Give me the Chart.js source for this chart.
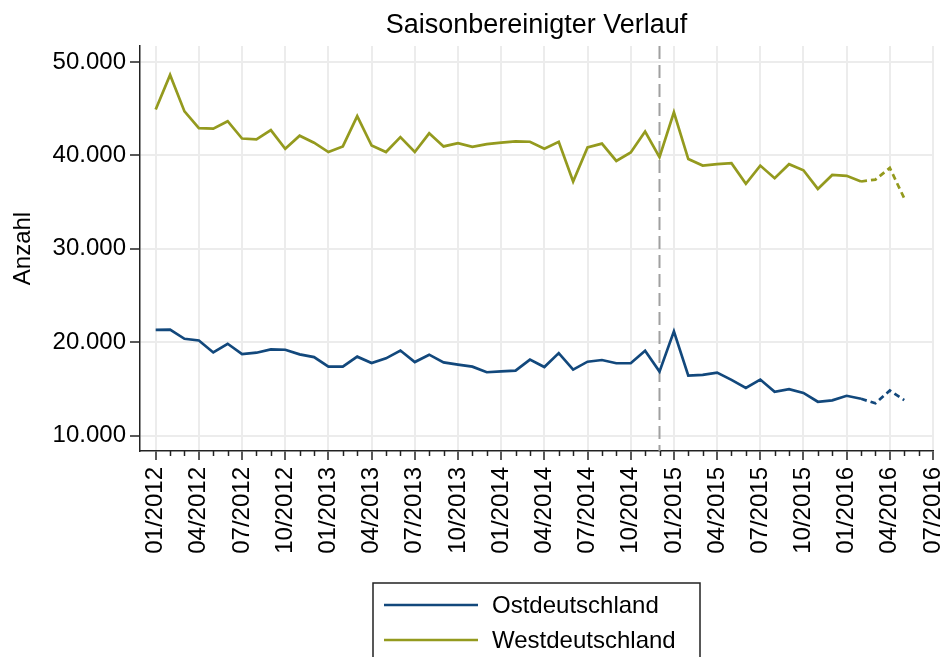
<!DOCTYPE html>
<html>
<head>
<meta charset="utf-8">
<title>Saisonbereinigter Verlauf</title>
<script src="https://cdn.jsdelivr.net/npm/chart.js@4/dist/chart.umd.min.js"></script>
<style>
  html, body { margin: 0; padding: 0; background: #ffffff; }
  #wrap { width: 946px; height: 657px; position: relative; }
</style>
</head>
<body>
<div id="wrap"><canvas id="myChart" width="946" height="657"></canvas></div>
<script>
// Monthly categories (x = month index, 0 = 01/2012)
var months = [
  "01/2012","02/2012","03/2012","04/2012","05/2012","06/2012","07/2012","08/2012","09/2012","10/2012","11/2012","12/2012",
  "01/2013","02/2013","03/2013","04/2013","05/2013","06/2013","07/2013","08/2013","09/2013","10/2013","11/2013","12/2013",
  "01/2014","02/2014","03/2014","04/2014","05/2014","06/2014","07/2014","08/2014","09/2014","10/2014","11/2014","12/2014",
  "01/2015","02/2015","03/2015","04/2015","05/2015","06/2015","07/2015","08/2015","09/2015","10/2015","11/2015","12/2015",
  "01/2016","02/2016","03/2016","04/2016","05/2016"
];

// Series values
var ostValues = [
  21320, 21350, 20360, 20180, 18900, 19830, 18720, 18870, 19220, 19190, 18690, 18400,
  17380, 17380, 18450, 17770, 18270, 19100, 17870, 18660, 17840, 17600, 17380, 16780,
  16880, 16960, 18130, 17340, 18830, 17060, 17910, 18090, 17740, 17740, 19080, 16850,
  21150, 16420, 16490, 16740, 15960, 15110, 16000, 14680, 14970, 14570, 13620, 13770,
  14260, 13940, 13450, 14830, 13800
];
var westValues = [
  44900, 48600, 44700, 42900, 42850, 43650, 41800, 41700, 42700, 40700, 42100, 41350,
  40350, 40950, 44200, 41050, 40350, 41950, 40350, 42350, 40950, 41300, 40900, 41200,
  41350, 41500, 41450, 40700, 41450, 37200, 40850, 41250, 39400, 40300, 42550, 39800,
  44600, 39600, 38900, 39050, 39150, 36950, 38900, 37550, 39050, 38400, 36400, 37900,
  37800, 37200, 37400, 38650, 35400
];

// Axis ticks
var xTickMonths = [0, 3, 6, 9, 12, 15, 18, 21, 24, 27, 30, 33, 36, 39, 42, 45, 48, 51, 54];
var xTickLabels = [
  "01/2012","04/2012","07/2012","10/2012","01/2013","04/2013","07/2013","10/2013",
  "01/2014","04/2014","07/2014","10/2014","01/2015","04/2015","07/2015","10/2015",
  "01/2016","04/2016","07/2016"
];
var yTicks = [10000, 20000, 30000, 40000, 50000];

var seriesNames = ["Ostdeutschland", "Westdeutschland"];
var breakMonth = 35;       // 12/2014, dashed vertical line
var dashFromIndex = 49;    // from 02/2016 on the series are dashed

var FONT = "'Liberation Sans', Arial, sans-serif";
var ostColor = "#12487c";
var westColor = "#949a1e";

function toPoints(values) {
  return values.map(function (v, i) { return { x: i, y: v }; });
}

function formatThousands(v) {
  return v.toLocaleString("de-DE");
}

// Title, break line, minor ticks and legend drawn on the canvas
var extrasPlugin = {
  id: "extras",
  beforeDatasetsDraw: function (chart) {
    var c = chart.ctx;
    var area = chart.chartArea;
    var x = chart.scales.x.getPixelForValue(breakMonth);
    c.save();
    c.strokeStyle = "#a0a0a0";
    c.lineWidth = 2;
    c.setLineDash([13, 6]);
    c.beginPath();
    c.moveTo(x, area.top);
    c.lineTo(x, area.bottom);
    c.stroke();
    c.restore();
  },
  afterDraw: function (chart) {
    var c = chart.ctx;
    var area = chart.chartArea;
    var xs = chart.scales.x;
    c.save();

    // title
    c.fillStyle = "#000";
    c.font = "27px " + FONT;
    c.textAlign = "center";
    c.textBaseline = "middle";
    c.fillText("Saisonbereinigter Verlauf", (area.left + area.right) / 2, 26);

    // minor monthly ticks
    c.strokeStyle = "#222";
    c.lineWidth = 1.5;
    for (var m = 0; m <= 54; m++) {
      if (m % 3 === 0) continue;
      var px = Math.round(xs.getPixelForValue(m)) + 0.5;
      c.beginPath();
      c.moveTo(px, area.bottom);
      c.lineTo(px, area.bottom + 5);
      c.stroke();
    }

    // legend box
    var boxLeft = 373, boxTop = 583, boxRight = 700;
    c.strokeStyle = "#222";
    c.lineWidth = 1.5;
    c.strokeRect(boxLeft, boxTop, boxRight - boxLeft, 120);
    c.font = "24px " + FONT;
    c.textAlign = "left";
    c.textBaseline = "middle";
    chart.data.datasets.forEach(function (ds, i) {
      var y = 605 + i * 35;
      c.strokeStyle = ds.borderColor;
      c.lineWidth = 2.5;
      c.setLineDash([]);
      c.beginPath();
      c.moveTo(384, y);
      c.lineTo(478, y);
      c.stroke();
      c.fillStyle = "#000";
      c.fillText(ds.label, 492, y + 1);
    });
    c.restore();
  }
};

var ctx = document.getElementById("myChart").getContext("2d");
var myChart = new Chart(ctx, {
  type: "line",
  data: {
    datasets: [
      {
        label: seriesNames[0],
        data: toPoints(ostValues),
        borderColor: ostColor,
        borderWidth: 2.7,
        pointRadius: 0,
        tension: 0,
        segment: {
          borderDash: function (s) { return s.p0DataIndex >= dashFromIndex ? [6, 4] : undefined; }
        }
      },
      {
        label: seriesNames[1],
        data: toPoints(westValues),
        borderColor: westColor,
        borderWidth: 2.7,
        pointRadius: 0,
        tension: 0,
        segment: {
          borderDash: function (s) { return s.p0DataIndex >= dashFromIndex ? [6, 4] : undefined; }
        }
      }
    ]
  },
  options: {
    responsive: false,
    animation: false,
    layout: { padding: { top: 46, left: 0, right: 13, bottom: 0 } },
    plugins: {
      legend: { display: false },
      tooltip: { enabled: false },
      title: { display: false }
    },
    scales: {
      x: {
        type: "linear",
        min: -1.09,
        max: 54,
        afterBuildTicks: function (scale) {
          scale.ticks = xTickMonths.map(function (m) { return { value: m }; });
        },
        afterFit: function (scale) {
          scale.height = 206;
          scale.paddingLeft = 0;
          scale.paddingRight = 0;
        },
        grid: {
          color: "#ececec",
          lineWidth: 2,
          tickColor: "#222",
          tickWidth: 1.5,
          tickLength: 9
        },
        border: { color: "#222", width: 1.5 },
        ticks: {
          autoSkip: false,
          minRotation: 90,
          maxRotation: 90,
          padding: 7,
          color: "#000",
          font: { family: FONT, size: 24 },
          callback: function (value) {
            var idx = xTickMonths.indexOf(value);
            return idx >= 0 ? xTickLabels[idx] : "";
          }
        }
      },
      y: {
        min: 8350,
        max: 51700,
        afterBuildTicks: function (scale) {
          scale.ticks = yTicks.map(function (v) { return { value: v }; });
        },
        afterFit: function (scale) {
          scale.width = 140;
          scale.paddingTop = 0;
          scale.paddingBottom = 0;
        },
        grid: {
          color: "#ececec",
          lineWidth: 2,
          tickColor: "#222",
          tickWidth: 1.5,
          tickLength: 10
        },
        border: { color: "#222", width: 1.5 },
        title: {
          display: true,
          text: "Anzahl",
          color: "#000",
          font: { family: FONT, size: 24 },
          padding: { top: 9, bottom: 0 }
        },
        ticks: {
          padding: 4,
          color: "#000",
          font: { family: FONT, size: 24 },
          callback: function (value) { return formatThousands(value); }
        }
      }
    }
  },
  plugins: [extrasPlugin]
});
</script>
</body>
</html>
